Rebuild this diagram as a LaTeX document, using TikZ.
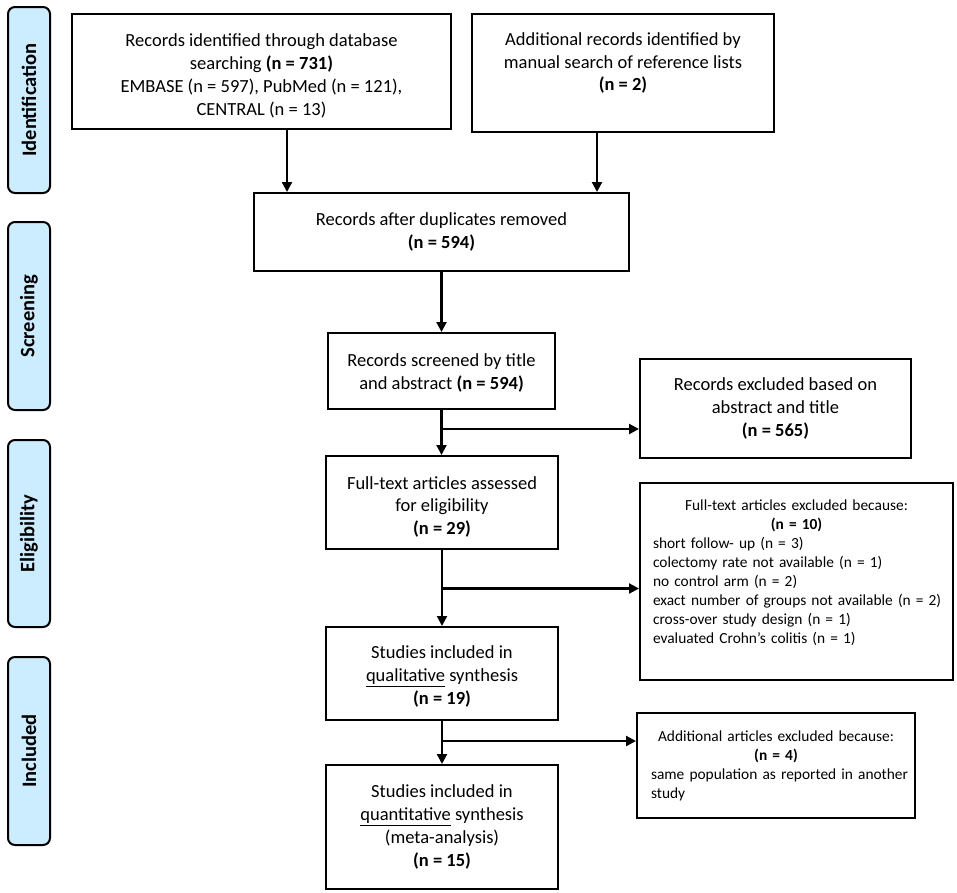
\documentclass[tikz,border=0pt]{standalone}
\usepackage{fontspec}
\setmainfont{Carlito}
\usetikzlibrary{arrows.meta}
\definecolor{phaseblue}{RGB}{204,236,255}
\newcommand\fsmain{\fontsize{18.5}{22.7}\selectfont}
\newcommand\fssmall{\fontsize{15.4}{19}\selectfont}
\newcommand\fsphase{\fontsize{20.5}{23}\selectfont\bfseries}
\newcommand\topstrut[1]{\rule{0pt}{#1}}
\begin{document}
\begin{tikzpicture}[x=1pt,y=-1pt,
  box/.style={draw, line width=2pt, align=center, inner sep=0pt, font=\fsmain},
  exbox/.style={draw, line width=2pt, inner sep=0pt, font=\fssmall},
  phase/.style={draw, line width=2pt, fill=phaseblue, rounded corners=7pt, rotate=90, inner sep=0pt, font=\fsphase, minimum height=42pt},
  arr/.style={line width=2.2pt, -{Triangle[length=10pt,width=10pt]}}]
\useasboundingbox (0,0) rectangle (957,892);

% phase labels
\node[phase, minimum width=186pt] (pid) at (29,100) {Identification};
\node[phase, minimum width=188pt] (psc) at (29,316) {Screening};
\node[phase, minimum width=187pt] (pel) at (29,533.5) {Eligibility};
\node[phase, minimum width=188pt] (pin) at (29,751) {Included};

% main boxes
\node[box, minimum width=379pt, minimum height=115pt] (b1) at (261.5,71.5)
  {\topstrut{21.5pt}Records identified through database\\ searching \textbf{(n = 731)}\\ EMBASE (n = 597), PubMed (n = 121),\\ CENTRAL (n = 13)};
\node[box, minimum width=302pt, minimum height=118pt] (b2) at (623,73)
  {Additional records identified by\\ manual search of reference lists\\ \textbf{(n = 2)}\\ \mbox{}};
\node[box, minimum width=375pt, minimum height=78pt] (b3) at (441.5,232)
  {Records after duplicates removed\\ \textbf{(n = 594)}};
\node[box, minimum width=227pt, minimum height=76pt] (b4) at (441.5,371)
  {\topstrut{16.5pt}Records screened by title\\ and abstract \textbf{(n = 594)}};
\node[box, minimum width=232pt, minimum height=93pt] (b5) at (442,502.5)
  {\topstrut{21.5pt}Full-text articles assessed\\ for eligibility\\ \textbf{(n = 29)}};
\node[box, minimum width=232pt, minimum height=93pt] (b6) at (442,673.5)
  {\topstrut{18.5pt}Studies included in\\ \underline{qualitative} synthesis\\ \textbf{(n = 19)}};
\node[box, minimum width=232pt, minimum height=124pt] (b7) at (442,827)
  {Studies included in\\ \underline{quantitative} synthesis\\ (meta-analysis)\\ \textbf{(n = 15)}};

% exclusion boxes
\node[box, minimum width=271pt, minimum height=99pt] (e1) at (775.5,408.5)
  {Records excluded based on\\ abstract and title\\ \textbf{(n = 565)}};
\node[exbox, minimum width=313pt, minimum height=197pt, text width=287pt, align=left] (e2) at (796.5,581.5)
  {{\centering \mbox{Full-text articles excluded because:}\\ \textbf{(n = 10)}\par}
   \raggedright
   \mbox{short follow- up (n = 3)}\\
   \mbox{colectomy rate not available (n = 1)}\\
   \mbox{no control arm (n = 2)}\\
   \mbox{exact number of groups not available (n = 2)}\\
   \mbox{cross-over study design (n = 1)}\\
   \mbox{evaluated Crohn’s colitis (n = 1)}\\
   \mbox{}};
\node[exbox, minimum width=278pt, minimum height=105pt, text width=250pt, align=left] (e3) at (776,765.5)
  {{\centering \mbox{Additional articles excluded because:}\\ \textbf{(n = 4)}\par}
   \raggedright
   \mbox{same population as reported in another}\\
   study};

% connectors
\coordinate (a1) at ([xshift=25.5pt]b1.south);
\coordinate (a2) at ([xshift=-26pt]b2.south);
\draw[arr] (a1) -- (a1 |- b3.north);
\draw[arr] (a2) -- (a2 |- b3.north);
\draw[arr] (b3.south) -- (b4.north);
\draw[arr] (b4.south) -- (b4.south |- b5.north);
\draw[arr] (b5.south) -- (b6.north);
\draw[arr] (b6.south) -- (b7.north);

\path (b4.south) ++(0,19) coordinate (j1);
\path (b5.south) ++(0,38.5) coordinate (j2);
\path (b6.south) ++(0,20) coordinate (j3);
\draw[arr] (j1) -- (j1 -| e1.west);
\draw[arr] (j2) -- (j2 -| e2.west);
\draw[arr] (j3) -- (j3 -| e3.west);
\end{tikzpicture}
\end{document}
